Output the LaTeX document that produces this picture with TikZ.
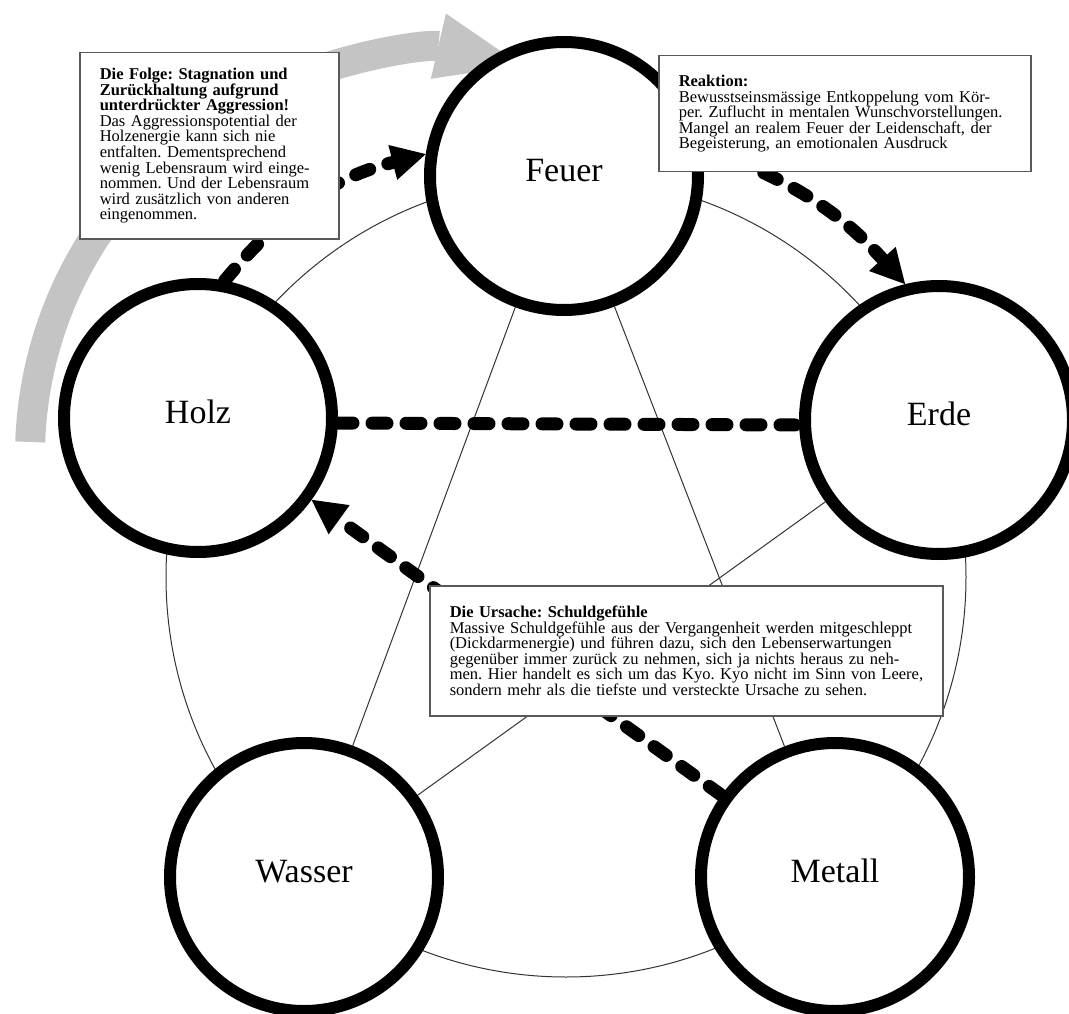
\documentclass[tikz,border=0pt]{standalone}
\usepackage{fontspec}
\setmainfont{Liberation Serif}
\usetikzlibrary{arrows.meta}
\frenchspacing
\newcommand{\notefont}{\fontsize{16.5}{15.6}\selectfont\lineskiplimit=-20pt\spaceskip=0.21em\relax}
\tikzstyle{element} = [circle, draw, line width=12pt, fill=white, text depth=12pt,
    minimum size=268pt, inner sep=0pt, font=\fontsize{34}{40}\selectfont]
\tikzstyle{note} = [rectangle, draw=black!65, line width=1.5pt, fill=white,
    anchor=north west, align=left, inner xsep=20pt, inner ysep=0pt, font=\notefont]
\tikzstyle{line} = [draw=black!80, line width=1pt]
\tikzstyle{dashline} = [draw, line width=13pt, line cap=round, dash pattern=on 15pt off 19pt]
\tikzstyle{dasharrow} = [dashline, -{Triangle[length=34pt, width=36pt, line width=0pt]}]
\tikzstyle{bow} = [draw=black!23, line width=30pt, -{Triangle[length=85pt, width=67pt, line width=0pt]}]
\begin{document}
\begin{tikzpicture}[x=1pt, y=1pt]
      \useasboundingbox (0,0) rectangle (1069,-1014);
      % Cycle
      \coordinate (bowcenter) at (431,-456);
      \coordinate (ring) at (566,-577);
      \path [bow] ([shift={(178:401)}]bowcenter) arc [start angle=178, end angle=77, radius=401];
      \path [line] (ring) circle [radius=400];
      % Elements
      \node [element] (feuer) at (564,-176) {Feuer};
      \node [element] (erde) at (939,-420) {Erde};
      \node [element] (metall) at (835,-877) {Metall};
      \node [element] (wasser) at (304,-877) {Wasser};
      \node [element] (holz) at (198,-418) {Holz};
      % Draw edges
      \path [line] (feuer) -- (wasser);
      \path [line] (feuer) -- (metall);
      \path [line] (erde) -- (wasser);
      \path [dashline] ([yshift=-5pt]holz.east) -- ([yshift=-5pt]erde.west);
      \path [dasharrow] (metall) -- (holz);
      \path [dasharrow] (holz.79) to [bend left=18] (feuer.171);
      \path [dasharrow] (feuer.12) to [bend left=14] (erde.104);
      % Notes
      \node [note, text width=219pt, minimum height=186pt] (folge) at (79,-52) {\textbf{Die Folge: Stagnation und}\\
        \textbf{Zurückhaltung aufgrund}\\
        \textbf{unterdrückter Aggression!}\\
        Das Aggressionspotential der\\
        Holzenergie kann sich nie\\
        entfalten. Dementsprechend\\
        wenig Lebensraum wird einge-\\
        nommen. Und der Lebensraum\\
        wird zusätzlich von anderen\\
        eingenommen.};
      \node [note, text width=332pt, minimum height=116pt] (reaktion) at (658,-55) {\textbf{Reaktion:}\\
        Bewusstseinsmässige Entkoppelung vom Kör-\\
        per. Zuflucht in mentalen Wunschvorstellungen.\\
        Mangel an realem Feuer der Leidenschaft, der\\
        Begeisterung, an emotionalen Ausdruck};
      \node [note, text width=473pt, minimum height=130pt] (ursache) at (429,-585) {\textbf{Die Ursache: Schuldgefühle}\\
        \mbox{Massive Schuldgefühle aus der Vergangenheit werden mitgeschleppt}\\
        \mbox{(Dickdarmenergie) und führen dazu, sich den Lebenserwartungen}\\
        \mbox{gegenüber immer zurück zu nehmen, sich ja nichts heraus zu neh-}\\
        \mbox{men. Hier handelt es sich um das Kyo. Kyo nicht im Sinn von Leere,}\\
        \mbox{sondern mehr als die tiefste und versteckte Ursache zu sehen.}};
\end{tikzpicture}
\end{document}
